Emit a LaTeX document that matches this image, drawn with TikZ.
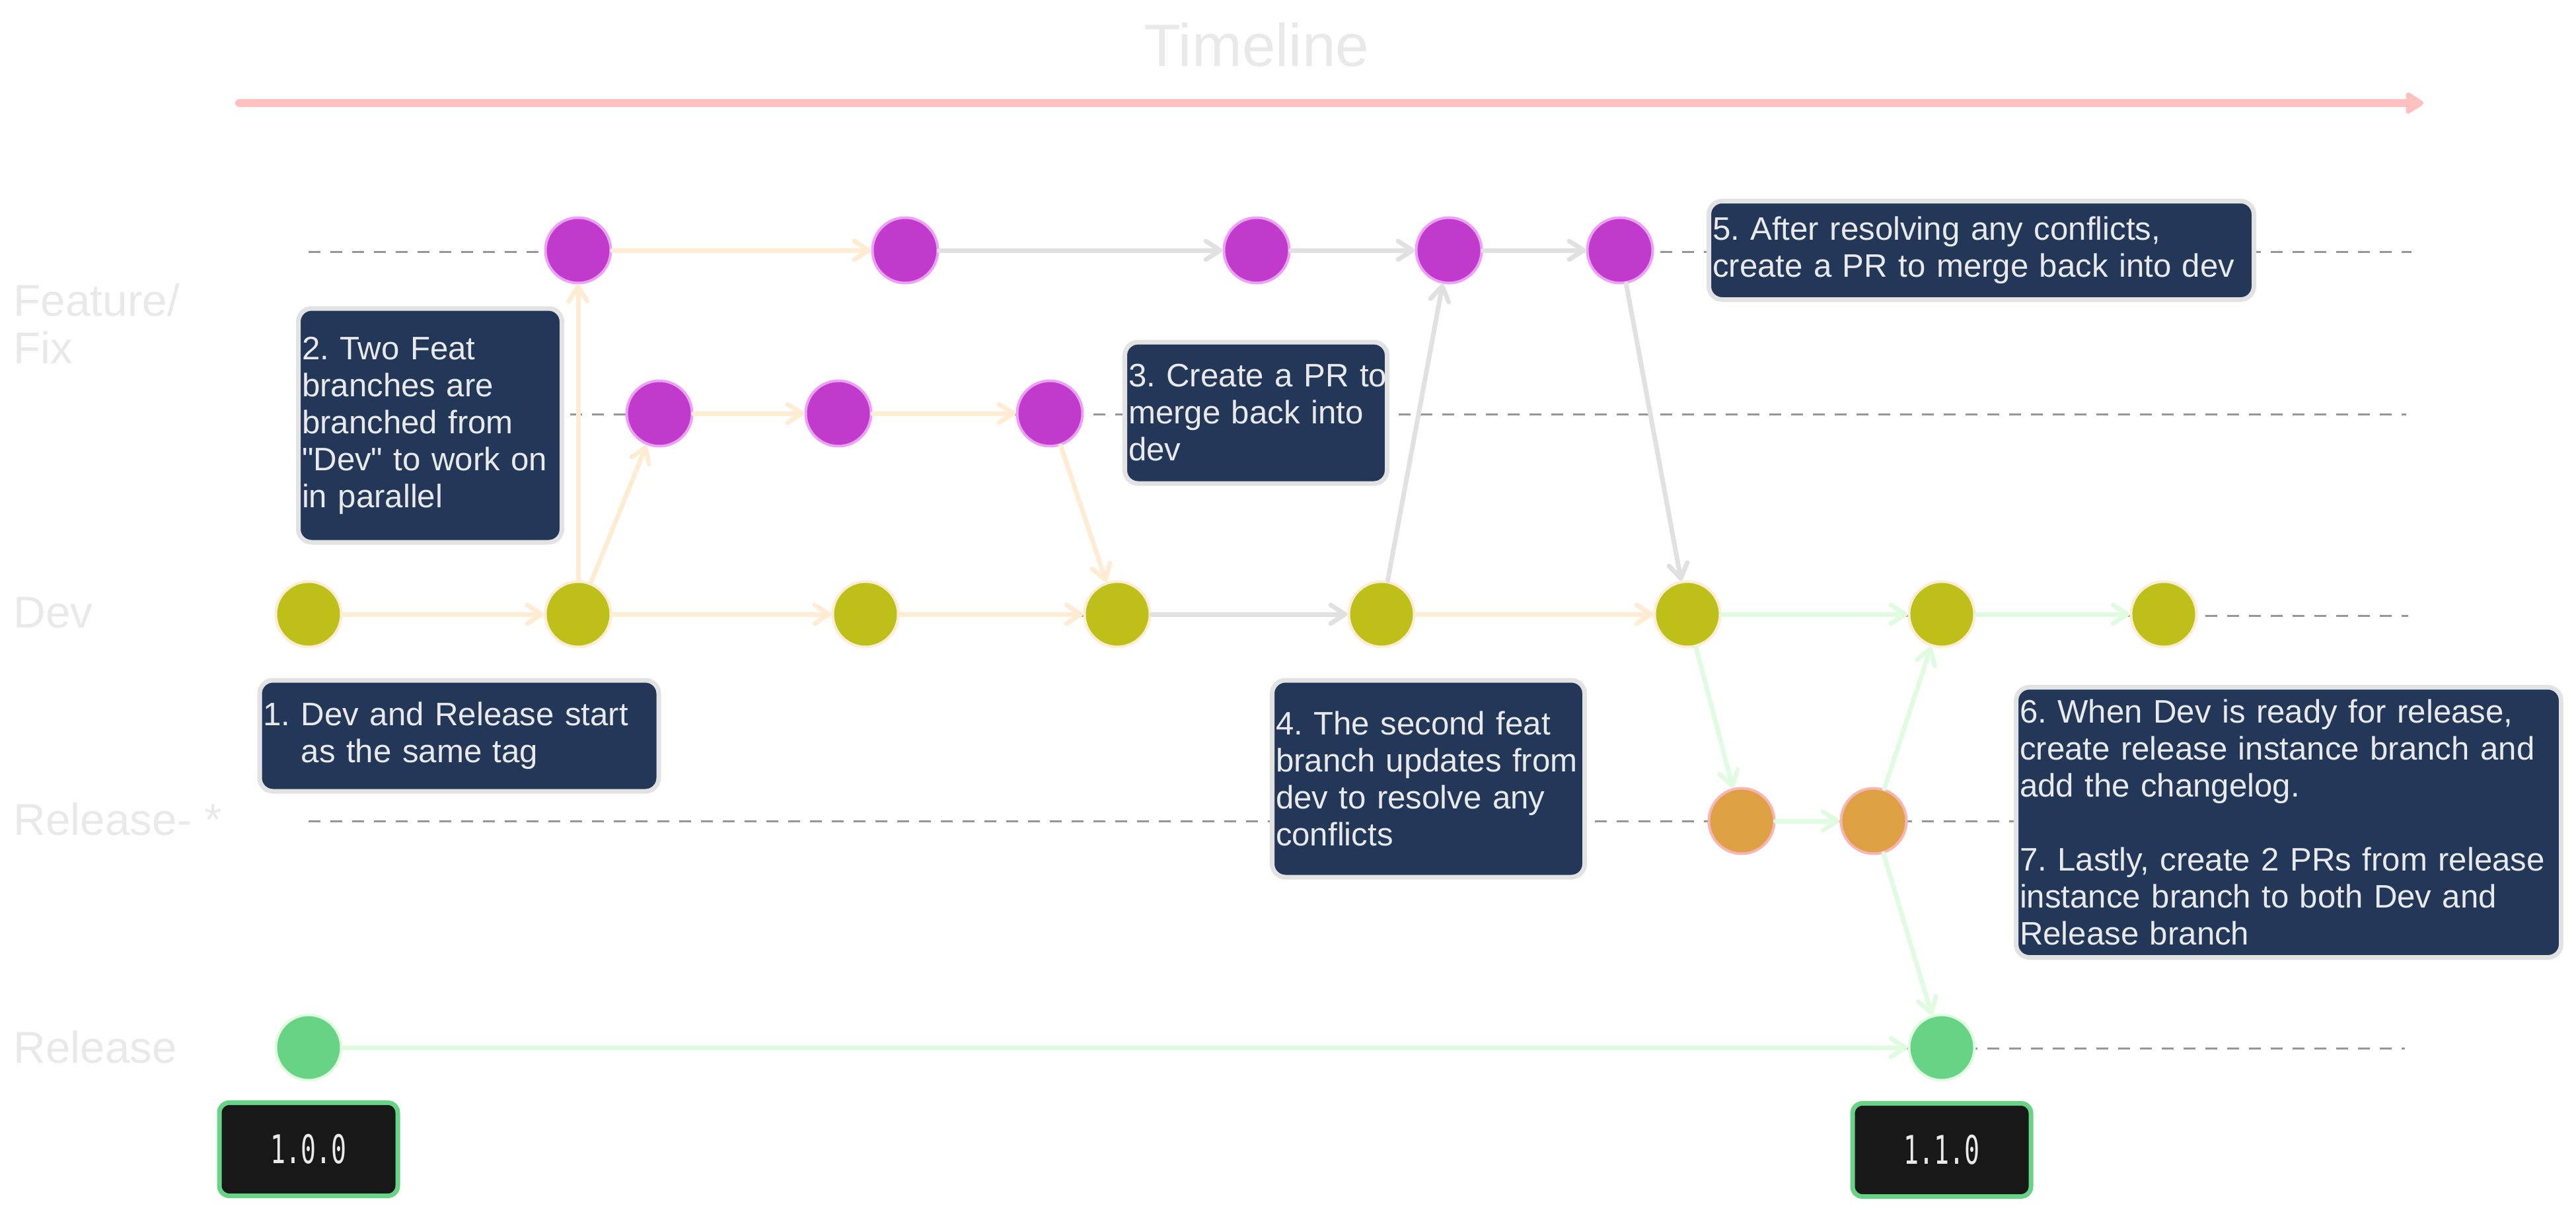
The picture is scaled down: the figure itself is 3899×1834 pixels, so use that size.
\documentclass[tikz,border=0pt]{standalone}
\usepackage{fontspec}
\setmainfont{Liberation Sans}[Ligatures=TeXOff]
\newfontfamily\tagfont[FakeStretch=0.64]{DejaVu Sans Mono}
\usetikzlibrary{arrows.meta, positioning}

\definecolor{featfill}{RGB}{192,59,203}
\definecolor{featline}{RGB}{236,160,250}
\definecolor{devfill}{RGB}{190,192,26}
\definecolor{devline}{RGB}{255,236,210}
\definecolor{relifill}{RGB}{221,160,66}
\definecolor{reliline}{RGB}{250,180,180}
\definecolor{relfill}{RGB}{102,211,133}
\definecolor{relline}{RGB}{226,252,226}
\definecolor{warmline}{RGB}{255,236,210}
\definecolor{coolline}{RGB}{225,225,225}
\definecolor{freshline}{RGB}{224,252,224}
\definecolor{notefill}{RGB}{35,56,89}
\definecolor{noteline}{RGB}{226,226,226}
\definecolor{inkgrey}{RGB}{233,233,233}
\definecolor{tagfill}{RGB}{24,24,24}
\definecolor{pinkline}{RGB}{255,192,192}
\definecolor{lanegrey}{RGB}{150,150,150}

\newcommand\notesize{\fontsize{14pt}{15.93pt}\selectfont\frenchspacing\hyphenpenalty=10000}
\newcommand\lanesize{\fontsize{19.2pt}{20.5pt}\selectfont}
\newcommand\titlesize{\fontsize{25.9pt}{30pt}\selectfont}

\tikzset{
    commit/.style={circle, minimum size=9.9mm, inner sep=0pt, line width=0.4mm},
    feat/.style={commit, fill=featfill, draw=featline},
    dev/.style={commit, fill=devfill, draw=devline},
    reli/.style={commit, fill=relifill, draw=reliline},
    rel/.style={commit, fill=relfill, draw=relline},
    flow/.style={line width=0.7mm, line cap=round,
        -{Straight Barb[length=2.2mm, width=2.8mm, round]}},
    warm/.style={flow, draw=warmline},
    cool/.style={flow, draw=coolline},
    fresh/.style={flow, draw=freshline},
    lane/.style={draw=lanegrey, line width=0.3mm, dash pattern=on 1.8mm off 1.5mm},
    note/.style={rounded corners=2mm, fill=notefill, draw=noteline, line width=0.7mm,
        text=inkgrey, align=left, inner xsep=0.55mm, inner ysep=0pt, font=\notesize},
    tag/.style={rounded corners=1.5mm, fill=tagfill, draw=relfill, line width=0.7mm,
        minimum width=27mm, minimum height=14.1mm, text=inkgrey,
        font=\tagfont\fontsize{17pt}{18pt}\selectfont},
    lbl/.style={anchor=west, inner sep=0pt, align=left, text=inkgrey, font=\lanesize}
}

\begin{document}
\begin{tikzpicture}[x=0.1mm, y=-0.1mm]
        \useasboundingbox (0,0) rectangle (3899,1834);

        % timeline
        \node[anchor=base, inner sep=0pt, text=inkgrey, font=\titlesize] (title) at (1902,100) {Timeline};
        \coordinate (tl0) at (362,156);
        \coordinate (tl1) at (3668,156);
        \draw[draw=pinkline, line width=1.2mm, line cap=round,
            -{Triangle[length=3mm, width=3.6mm, round]}] (tl0) -- (tl1);

        % lanes
        \foreach \y/\xe in {381/3650, 627/3642, 932/3645, 1243/3645, 1587/3640}
            \draw[lane] (467,\y) -- (\xe,\y);

        \node[lbl] (lfeat) at (20,490) {Feature/\\Fix};
        \node[lbl] (ldev) at (20,928) {Dev};
        \node[lbl] (lreli) at (20,1240) {Release- *};
        \node[lbl] (lrel) at (20,1585) {Release};

        % commits
        \node[feat] (f1) at (875,379) {};
        \node[feat] (f2) at (1370,379) {};
        \node[feat] (f3) at (1902,379) {};
        \node[feat] (f4) at (2193,379) {};
        \node[feat] (f5) at (2452,379) {};

        \node[feat] (g1) at (998,626) {};
        \node[feat] (g2) at (1269,626) {};
        \node[feat] (g3) at (1589,626) {};

        \node[dev] (d1) at (467,930) {};
        \node[dev] (d2) at (875,930) {};
        \node[dev] (d3) at (1310,930) {};
        \node[dev] (d4) at (1691,930) {};
        \node[dev] (d5) at (2091,930) {};
        \node[dev] (d6) at (2554,930) {};
        \node[dev] (d7) at (2939,930) {};
        \node[dev] (d8) at (3275,930) {};

        \node[reli] (m1) at (2636,1243) {};
        \node[reli] (m2) at (2836,1243) {};

        \node[rel] (r1) at (467,1586) {};
        \node[rel] (r2) at (2939,1586) {};

        \draw
            (d1) edge[warm] (d2)
            (d2) edge[warm] (d3)
            (d3) edge[warm] (d4)
            (d4) edge[cool] (d5)
            (d5) edge[warm] (d6)
            (d6) edge[fresh] (d7)
            (d7) edge[fresh] (d8)
            (d2) edge[warm] (f1)
            (d2) edge[warm] (g1)
            (f1) edge[warm] (f2)
            (f2) edge[cool] (f3)
            (f3) edge[cool] (f4)
            (f4) edge[cool] (f5)
            (g1) edge[warm] (g2)
            (g2) edge[warm] (g3)
            (g3) edge[warm] (d4)
            (d5) edge[cool] (f4)
            (f5) edge[cool] (d6)
            (d6) edge[fresh] (m1)
            (m1) edge[fresh] (m2)
            (m2) edge[fresh] (d7)
            (m2) edge[fresh] (r2)
            (r1) edge[fresh] (r2)
            ;

        % notes
        \node[note, text width=59.3mm, minimum height=16.8mm] (n1) at (695,1114)
            {1. Dev and Release start\\\phantom{1.\ }as the same tag};
        \node[note, text width=38.8mm, minimum height=35.4mm] (n2) at (651,644)
            {2. Two Feat\\branches are\\branched from\\"Dev" to work on\\in parallel};
        \node[note, text width=38.6mm, minimum height=21.4mm] (n3) at (1901,625)
            {\mbox{3. Create a PR to}\\merge back into\\dev};
        \node[note, text width=46.2mm, minimum height=29.8mm] (n4) at (2162,1179)
            {4. The second feat\\branch updates from\\dev to resolve any\\conflicts};
        \node[note, text width=81.4mm, minimum height=14.9mm] (n5) at (2999,379)
            {5. After resolving any conflicts,\\create a PR to merge back into dev};
        \node[note, text width=81.4mm, minimum height=40.9mm] (n6) at (3464,1245)
            {6. When Dev is ready for release,\\create release instance branch and\\add the changelog.\\[5.6mm]7. Lastly, create 2 PRs from release\\instance branch to both Dev and\\Release branch};

        % tags
        \node[tag] (t1) at (467,1740) {1.0.0};
        \node[tag] (t2) at (2939,1741) {1.1.0};
    \end{tikzpicture}
\end{document}
